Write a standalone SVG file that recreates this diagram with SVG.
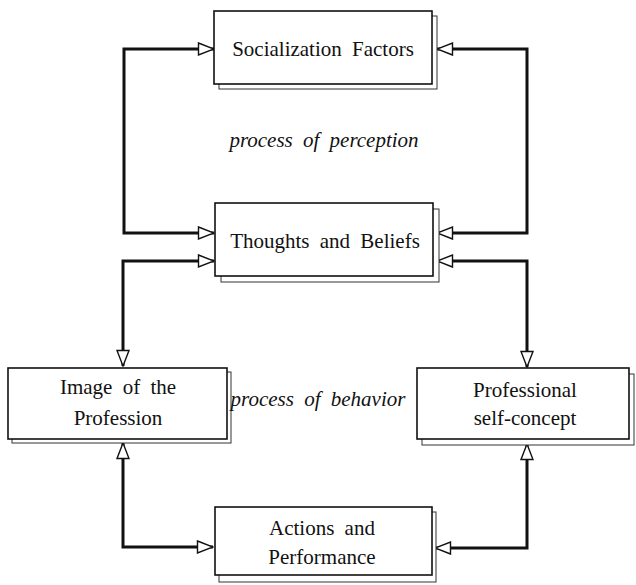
<svg xmlns="http://www.w3.org/2000/svg" width="636" height="585" viewBox="0 0 636 585">
<style>
.box{fill:#fff;stroke:#111;stroke-width:1.6}
.shadow{fill:#fff;stroke:#333;stroke-width:1}
.lbl{font-family:"Liberation Serif","Times New Roman",serif;font-size:21px;fill:#111;text-anchor:middle;word-spacing:5px}
.it{font-style:italic}
.conn{fill:none;stroke:#111;stroke-width:3;stroke-linejoin:miter;marker-start:url(#ah);marker-end:url(#ah)}
</style>
<defs>
<marker id="ah" viewBox="0 0 18 14" refX="17" refY="7" markerWidth="18" markerHeight="14" markerUnits="userSpaceOnUse" orient="auto-start-reverse">
<path d="M1.5,1 L17,7 L1.5,13 Z" fill="#fff" stroke="#111" stroke-width="1.4" stroke-linejoin="miter"/>
</marker>
</defs>
<rect width="636" height="585" fill="#fff"/>
<g id="connectors">
<path class="conn" d="M214,49 H124 V233 H214"/>
<path class="conn" d="M437,49 H527 V233 H437"/>
<path class="conn" d="M214,261 H123 V366"/>
<path class="conn" d="M437,261 H527 V367"/>
<path class="conn" d="M123,443 V547 H213"/>
<path class="conn" d="M527,444 V548 H435"/>
</g>
<g id="socialization">
<rect class="shadow" x="219" y="16" width="218" height="73"/>
<rect class="box" x="214" y="11" width="218" height="73"/>
<text class="lbl" x="323" y="56">Socialization Factors</text>
</g>
<g id="perception-label">
<text class="lbl it" x="324" y="147">process of perception</text>
</g>
<g id="thoughts">
<rect class="shadow" x="221" y="209" width="218" height="73"/>
<rect class="box" x="215" y="203" width="218" height="73"/>
<text class="lbl" x="325" y="248">Thoughts and Beliefs</text>
</g>
<g id="image">
<rect class="shadow" x="12" y="372" width="219" height="71"/>
<rect class="box" x="8" y="368" width="219" height="71"/>
<text class="lbl" x="118" y="394">Image of the</text>
<text class="lbl" x="118" y="425">Profession</text>
</g>
<g id="behavior-label">
<text class="lbl it" x="318" y="406">process of behavior</text>
</g>
<g id="professional">
<rect class="shadow" x="422" y="374" width="212" height="71"/>
<rect class="box" x="417" y="368" width="212" height="71"/>
<text class="lbl" x="525" y="397">Professional</text>
<text class="lbl" x="525" y="425">self-concept</text>
</g>
<g id="actions">
<rect class="shadow" x="219" y="512" width="217" height="70"/>
<rect class="box" x="215" y="507" width="217" height="68"/>
<text class="lbl" x="322" y="535">Actions and</text>
<text class="lbl" x="322" y="564">Performance</text>
</g>
</svg>
